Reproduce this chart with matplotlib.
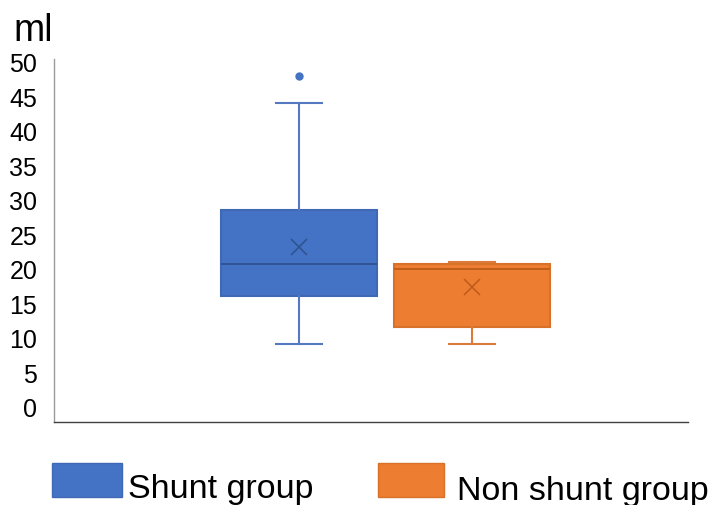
import matplotlib.pyplot as plt
from matplotlib.patches import Rectangle

plt.rcParams['font.family'] = ['Liberation Sans', 'DejaVu Sans']

# Summary statistics for each group (ml)
groups = ['Shunt group', 'Non shunt group']
whisker_low = [9, 9]
q1 = [16, 11.6]
medians = [20.6, 20]
q3 = [28.5, 20.7]
whisker_high = [44, 21]
means = [23.1, 17.4]
outliers = [[48], []]

face_colors = ['#4472C4', '#ED7D31']
edge_colors = ['#3F69B5', '#D8712A']
line_colors = ['#5479C0', '#DB7B3A']
dark_colors = ['#2F528F', '#BE5B1A']

stats = []
for i, g in enumerate(groups):
    stats.append({
        'label': g,
        'whislo': whisker_low[i],
        'q1': q1[i],
        'med': medians[i],
        'q3': q3[i],
        'whishi': whisker_high[i],
        'mean': means[i],
        'fliers': outliers[i],
    })

W, H = 714, 506
fig = plt.figure(figsize=(W / 100, H / 100), dpi=100)
ax = fig.add_axes([54 / W, 1 - 423 / H, (688 - 54) / W, (423 - 60) / H])

for i, s in enumerate(stats):
    ax.bxp([s], positions=[i + 1], widths=0.9, patch_artist=True,
           showmeans=True, showfliers=True, capwidths=0.27,
           boxprops=dict(facecolor=face_colors[i], edgecolor=edge_colors[i], linewidth=1.5),
           medianprops=dict(color=dark_colors[i], linewidth=1.3),
           whiskerprops=dict(color=line_colors[i], linewidth=1.5),
           capprops=dict(color=line_colors[i], linewidth=1.5),
           meanprops=dict(marker='x', markeredgecolor=dark_colors[i],
                          markersize=11, markeredgewidth=1.1),
           flierprops=dict(marker='o', markerfacecolor=face_colors[i],
                           markeredgecolor=face_colors[i], markersize=5))

ax.set_xlim(-0.416, 3.249)
ax.set_ylim(-2.25, 50.4)
ax.set_yticks(range(0, 51, 5))
ax.set_xticks([])
ax.tick_params(axis='y', length=0, pad=12, labelsize=18)
for side in ['top', 'right']:
    ax.spines[side].set_visible(False)
ax.spines['left'].set_color('#9A9A9A')
ax.spines['bottom'].set_color('#404040')
ax.spines['left'].set_linewidth(1.0)
ax.spines['bottom'].set_linewidth(1.0)

fig.text(13 / W, 1 - 41 / H, 'ml', fontsize=27, ha='left', va='baseline')

# Legend drawn below the plot
legend_boxes = [(52, 122), (378, 444)]
legend_text_x = [128, 457]
legend_baseline = [498, 500]
for i, g in enumerate(groups):
    x0, x1 = legend_boxes[i]
    fig.add_artist(Rectangle((x0 / W, 1 - 498 / H), (x1 - x0) / W, 34 / H,
                             transform=fig.transFigure, facecolor=face_colors[i],
                             edgecolor=edge_colors[i], linewidth=1))
    fig.text(legend_text_x[i] / W, 1 - legend_baseline[i] / H, g,
             fontsize=24.5, ha='left', va='baseline')

fig.savefig('out.png', dpi=100)
